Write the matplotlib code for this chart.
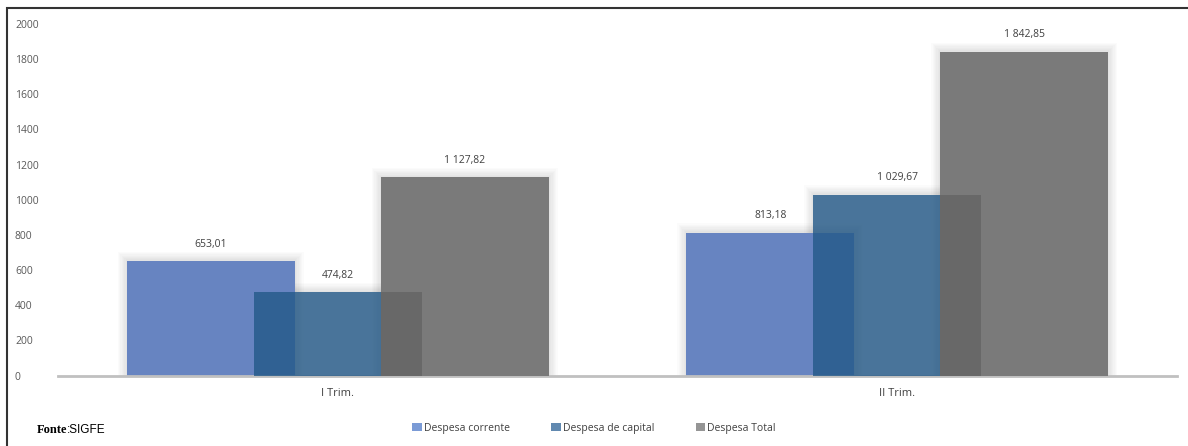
import matplotlib.pyplot as plt
import numpy as np
from matplotlib.patches import Patch, Rectangle

# -----------------------------
# Data
# -----------------------------
categories = ["I Trim.", "II Trim."]
series_names = ["Despesa corrente", "Despesa de capital", "Despesa Total"]
corrente = [653.01, 813.18]
capital = [474.82, 1029.67]
total = [1127.82, 1842.85]
yticks = [0, 200, 400, 600, 800, 1000, 1200, 1400, 1600, 1800, 2000]

# -----------------------------
# Style
# -----------------------------
plt.rcParams['font.family'] = ['Open Sans', 'DejaVu Sans']
col_corrente = '#6784c1'
col_capital = '#235988'     # drawn with alpha 0.8
col_total = '#7a7a7a'
leg_colors = ['#7b9bd6', '#6189b0', '#959595']
txt_col = '#404040'

fig = plt.figure(figsize=(11.88, 4.46), dpi=100)
ax = fig.add_axes([58 / 1188, 70.5 / 446, 1119 / 1188, 351.5 / 446])
ax.set_xlim(-0.5, 1.5)
ax.set_ylim(0, 2000)

x = np.arange(len(categories))
w = 0.30
step = 0.227
px_x = 2.0 / 1119
px_y = 2000 / 351.5

series = [corrente, capital, total]
offsets = [-step, 0, step]

# soft halo shadow behind each bar
for vals, off in zip(series, offsets):
    for k in range(1, 8):
        ax.bar(x + off, np.array(vals) + k * 1.3 * px_y, width=w + k * 2.6 * px_x,
               color='black', alpha=0.016, linewidth=0, zorder=1)

ax.bar(x - step, corrente, width=w, color=col_corrente, linewidth=0, zorder=2)
ax.bar(x, capital, width=w, color=col_capital, alpha=0.8, linewidth=0, zorder=3)
bars_tot = ax.bar(x + step, total, width=w, color=col_total, linewidth=0, zorder=4)

# darker band where capital bar sits behind the total bar
shade = ax.bar(x, capital, width=w, color='black', alpha=0.14, linewidth=0, zorder=5)
for sp, tp in zip(shade, bars_tot):
    sp.set_clip_path(tp)

# value labels
for vals, off in zip(series, offsets):
    for xi, v in zip(x, vals):
        lab = f"{v:,.2f}".replace(",", " ").replace(".", ",")
        ax.annotate(lab, (xi + off, v), xytext=(0, 12), textcoords='offset points',
                    ha='center', va='center', fontsize=7.5, color=txt_col, zorder=6)

# axes styling
for s in ['top', 'right', 'left']:
    ax.spines[s].set_visible(False)
ax.spines['bottom'].set_color('#c0c0c0')
ax.spines['bottom'].set_linewidth(2)
ax.set_yticks(yticks)
ax.set_yticklabels([str(t) for t in yticks])
ax.tick_params(axis='y', length=0, pad=31, labelsize=7.5, labelcolor='#595959')
for lab in ax.get_yticklabels():
    lab.set_horizontalalignment('left')
ax.set_xticks(x)
ax.set_xticklabels(categories)
ax.tick_params(axis='x', length=0, pad=9, labelsize=8, labelcolor=txt_col)

# legend
handles = [Patch(facecolor=c, edgecolor='none') for c in leg_colors]
fig.legend(handles, series_names, loc='center', bbox_to_anchor=(0.5, 0.04), ncol=3,
           frameon=False, fontsize=7.5, handlelength=0.9, handleheight=0.9,
           handletextpad=0.2, columnspacing=4.0, labelcolor=txt_col)

# source note
fig.text(37 / 1188, 0.036, "Fonte", fontsize=9, fontweight='bold',
         family='Liberation Serif', va='center', ha='left')
fig.text(67 / 1188, 0.036, ":SIGFE", fontsize=8.5,
         family=['Liberation Sans Narrow', 'Liberation Sans'], va='center', ha='left')

# outer frame (left and top edges visible)
fig.patches.append(Rectangle((7 / 1188, -0.1), 1.2, 1.1 - 8.5 / 446,
                             transform=fig.transFigure, fill=False,
                             edgecolor='#333333', linewidth=1.5))

fig.savefig("out.png", dpi=100)
